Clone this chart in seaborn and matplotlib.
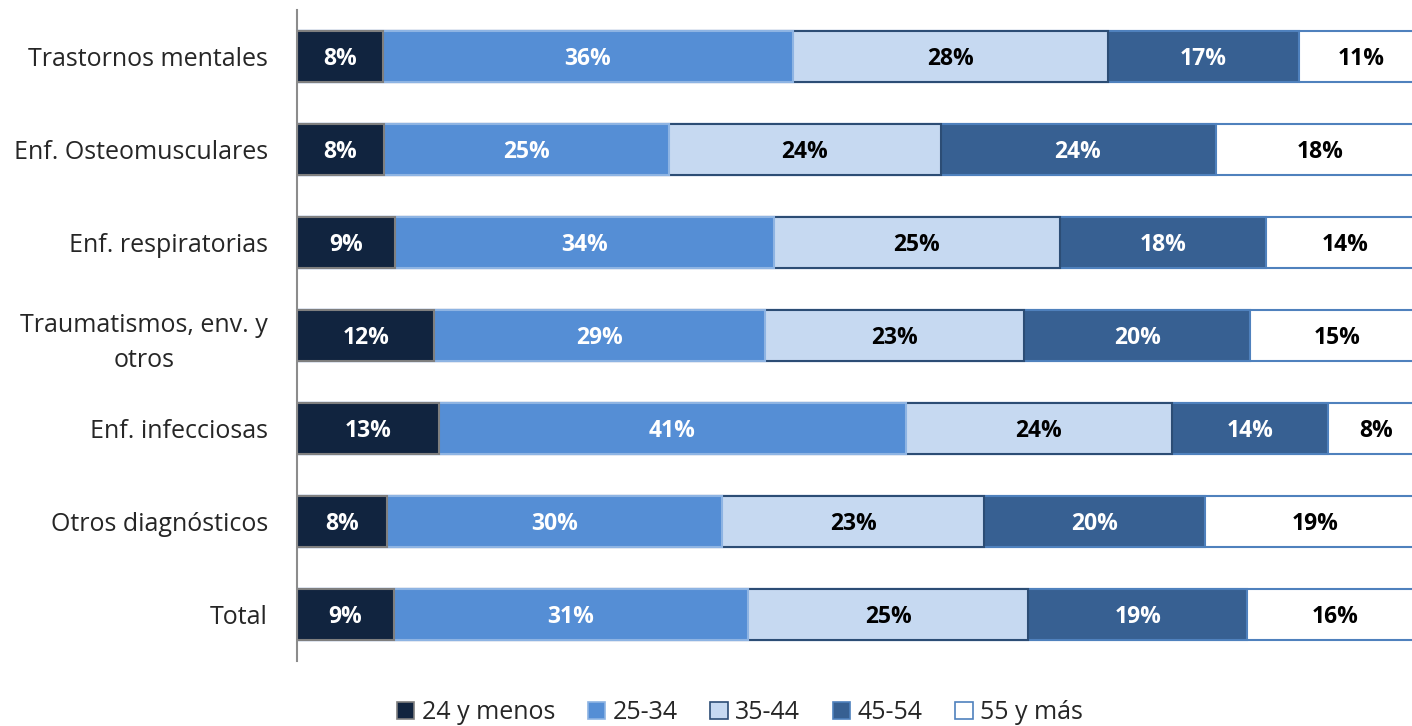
import numpy as np
import pandas as pd
import matplotlib.pyplot as plt
from matplotlib.patches import Patch
import seaborn as sns

# Categories (top to bottom) and shares per age group (%)
categories = ["Trastornos mentales", "Enf. Osteomusculares", "Enf. respiratorias",
              "Traumatismos, env. y\notros", "Enf. infecciosas", "Otros diagnósticos", "Total"]
age_groups = ["24 y menos", "25-34", "35-44", "45-54", "55 y más"]

s_24_menos = [7.6, 7.7, 8.7, 12.2, 12.6, 8.0, 8.6]
s_25_34 = [36.4, 25.3, 33.6, 29.3, 41.4, 29.7, 31.4]
s_35_44 = [28.0, 24.1, 25.4, 23.0, 23.6, 23.3, 24.9]
s_45_54 = [16.9, 24.4, 18.3, 20.1, 13.9, 19.6, 19.4]
s_55_mas = [11.1, 18.5, 14.0, 15.4, 8.5, 19.4, 15.7]

fills = ["#11243f", "#558ed5", "#c6d9f1", "#376092", "#ffffff"]
edges = ["#7f7f7f", "#8eb4e3", "#2c4d75", "#4f81bd", "#4f81bd"]
text_colors = ["white", "white", "black", "white", "black"]

df = pd.DataFrame({"cat": categories})
series = [s_24_menos, s_25_34, s_35_44, s_45_54, s_55_mas]
for name, vals in zip(age_groups, series):
    df[name] = vals
cum = df[age_groups].cumsum(axis=1)

sns.set_style("white")
plt.rcParams['font.family'] = ['Open Sans', 'DejaVu Sans']

fig = plt.figure(figsize=(14.12, 7.26), dpi=100)
ax = fig.add_axes([297 / 1412, 65 / 726, 1127 / 1412, 651 / 726])

# stacked bars: draw cumulative totals from the largest down
for i in reversed(range(len(age_groups))):
    sns.barplot(data=cum.assign(cat=categories), x=age_groups[i], y="cat",
                orient="h", color=fills[i], edgecolor=edges[i], linewidth=1.5,
                width=0.54, saturation=1, ax=ax)

# value labels
for i, name in enumerate(age_groups):
    centers = cum[name] - df[name] / 2
    for j, (c, v) in enumerate(zip(centers, df[name])):
        ax.text(c, j + 0.025, f"{v:.0f}%", ha="center", va="center",
                color=text_colors[i], fontsize=16.5, fontweight="bold")

ax.set_xlim(0, 100)
ax.set_ylim(len(categories) - 0.5, -0.5)
ax.set_xlabel("")
ax.set_ylabel("")
ax.set_xticks([])
ax.tick_params(axis="y", length=0, pad=21, labelsize=18)
for lbl in ax.get_yticklabels():
    lbl.set_multialignment("center")
    lbl.set_linespacing(1.5)
for side in ["top", "right", "bottom"]:
    ax.spines[side].set_visible(False)
ax.spines["left"].set_color("#8c8c8c")
ax.spines["left"].set_linewidth(1.5)

handles = [Patch(facecolor=f, edgecolor=e, linewidth=1.2) for f, e in zip(fills, edges)]
fig.legend(handles, age_groups, loc="center", bbox_to_anchor=(0.524, 0.018),
           ncol=5, frameon=False, fontsize=18, handlelength=0.7, handleheight=0.7,
           handletextpad=0.3, columnspacing=1.3)

fig.savefig("out.png", dpi=100)
